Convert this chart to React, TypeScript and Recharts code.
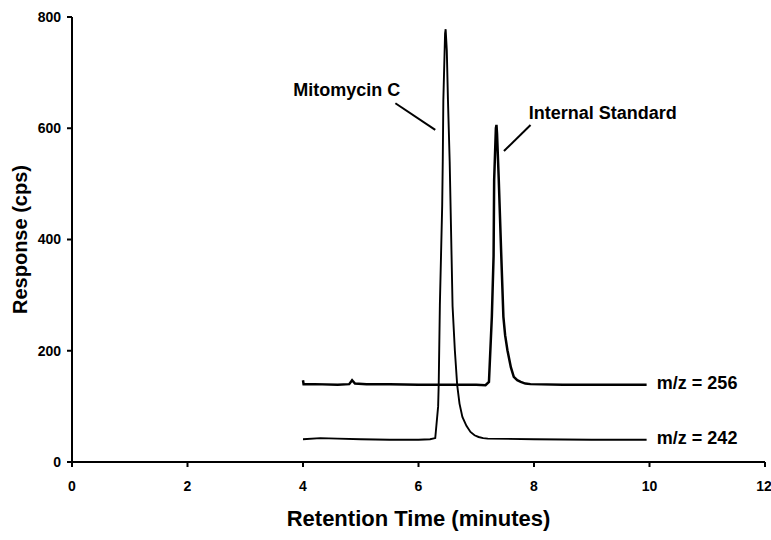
import { LineChart, Line, XAxis, YAxis, Label, ReferenceLine, ReferenceDot } from "recharts";

const FONT = '"Liberation Sans", Arial, sans-serif';

const xTicks = [0, 2, 4, 6, 8, 10, 12];
const yTicks = [0, 200, 400, 600, 800];

// m/z = 256 trace (internal standard)
const mz256Time = [
  4.0, 4.01, 4.2, 4.6, 4.8, 4.85, 4.9, 5.1, 5.5, 6.0, 6.5, 7.0, 7.16, 7.22, 7.27, 7.3, 7.31, 7.34,
  7.35, 7.36, 7.39, 7.43, 7.47, 7.5, 7.54, 7.6, 7.65, 7.71, 7.77, 7.85, 7.94, 8.5, 9.0, 9.5, 9.95,
];
const mz256Resp = [
  147, 140, 140, 139, 140, 147, 141, 140, 140, 139, 139, 139, 138, 144, 261, 370, 507, 600,
  606, 590, 507, 381, 261, 228, 201, 170, 153, 147, 144, 141, 140, 139, 139, 139, 139,
];

// m/z = 242 trace (mitomycin C)
const mz242Time = [
  4.0, 4.3, 4.6, 5.0, 5.5, 6.0, 6.2, 6.29, 6.34, 6.35, 6.37, 6.41, 6.42, 6.43, 6.46, 6.47, 6.49,
  6.51, 6.54, 6.59, 6.63, 6.67, 6.71, 6.76, 6.83, 6.9, 6.97, 7.04, 7.12, 7.2, 8.0, 9.0, 9.95,
];
const mz242Resp = [
  41, 43, 42, 41, 40, 40, 41, 43, 100, 140, 282, 460, 540, 650, 770, 778, 740,
  651, 540, 280, 200, 138, 105, 81, 65, 54, 48, 45, 43, 42, 41, 40, 40,
];

const mz256 = mz256Time.map((t, i) => ({ t, r: mz256Resp[i] }));
const mz242 = mz242Time.map((t, i) => ({ t, r: mz242Resp[i] }));

const tickStyle = { fontSize: 14, fontWeight: 700, fill: "#000", fontFamily: FONT };
const annStyle = { fontSize: 18, fontWeight: 700, fill: "#000", fontFamily: FONT };

export default function App() {
  return (
    <div style={{ position: "absolute", left: 0, top: 0, background: "#fff" }}>
      <LineChart width={771} height={540} margin={{ top: 17, right: 6, left: 0, bottom: 0 }}>
        <XAxis
          type="number"
          dataKey="t"
          domain={[0, 12]}
          ticks={xTicks}
          height={78}
          tickSize={5}
          tickMargin={14}
          axisLine={{ stroke: "#000", strokeWidth: 2 }}
          tickLine={{ stroke: "#000", strokeWidth: 2 }}
          tick={tickStyle}
        >
          <Label
            value="Retention Time (minutes)"
            position="insideBottom"
            offset={14}
            style={{ fontSize: 22, fontWeight: 700, fill: "#000", fontFamily: FONT }}
          />
        </XAxis>
        <YAxis
          type="number"
          domain={[0, 800]}
          ticks={yTicks}
          width={72}
          tickSize={5}
          tickMargin={6}
          axisLine={{ stroke: "#000", strokeWidth: 2 }}
          tickLine={{ stroke: "#000", strokeWidth: 2 }}
          tick={tickStyle}
        >
          <Label
            value="Response (cps)"
            angle={-90}
            position="insideLeft"
            offset={20}
            style={{ fontSize: 20, fontWeight: 700, fill: "#000", fontFamily: FONT, textAnchor: "middle" }}
          />
        </YAxis>
        <Line data={mz242} dataKey="r" type="linear" stroke="#000" strokeWidth={1.9} dot={false} isAnimationActive={false} />
        <Line data={mz256} dataKey="r" type="linear" stroke="#000" strokeWidth={2.5} dot={false} isAnimationActive={false} />

        <ReferenceLine segment={[{ x: 5.6, y: 645 }, { x: 6.29, y: 597 }]} stroke="#000" strokeWidth={2} />
        <ReferenceLine segment={[{ x: 7.94, y: 606 }, { x: 7.48, y: 559 }]} stroke="#000" strokeWidth={2} />

        <ReferenceDot x={3.815} y={669} r={1} fill="none" stroke="none" label={{ value: "Mitomycin C", position: "right", offset: 0, style: annStyle }} />
        <ReferenceDot x={7.89} y={628} r={1} fill="none" stroke="none" label={{ value: "Internal Standard", position: "right", offset: 0, style: annStyle }} />
        <ReferenceDot x={10.11} y={143} r={1} fill="none" stroke="none" label={{ value: "m/z = 256", position: "right", offset: 0, style: annStyle }} />
        <ReferenceDot x={10.11} y={44} r={1} fill="none" stroke="none" label={{ value: "m/z = 242", position: "right", offset: 0, style: annStyle }} />
      </LineChart>
    </div>
  );
}
